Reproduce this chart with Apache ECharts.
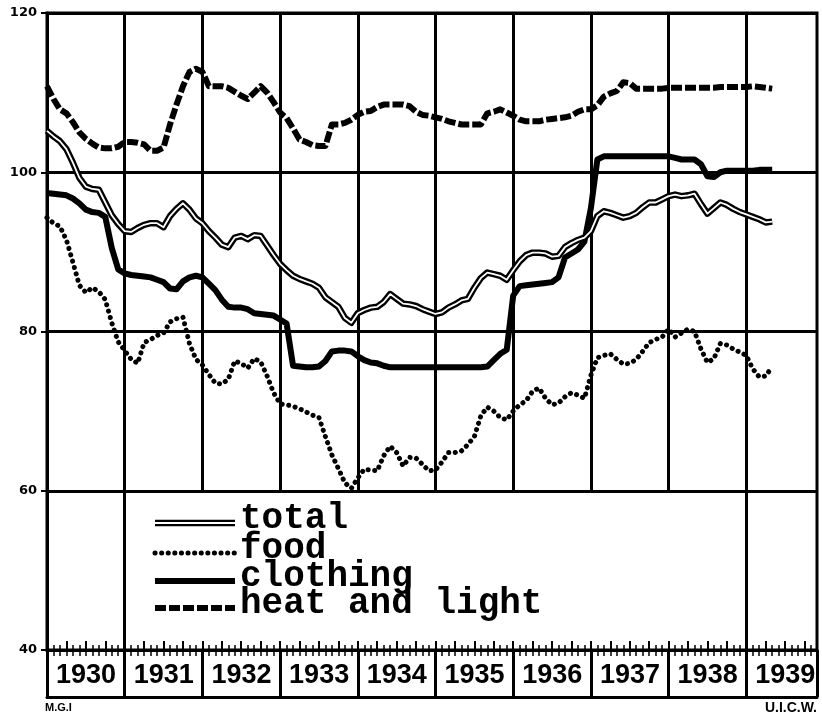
<!DOCTYPE html>
<html>
<head>
<meta charset="utf-8">
<title>Cost of living index 1930-1939</title>
<script src="https://cdn.jsdelivr.net/npm/echarts@6/dist/echarts.min.js"></script>
<style>
  html, body { margin: 0; padding: 0; background: #fff; }
  #chart { width: 822px; height: 717px; }
</style>
</head>
<body>
<div id="chart"></div>
<script>
// monthly index values, first value = January 1930
const startYear = 1930;
const years = [1930, 1931, 1932, 1933, 1934, 1935, 1936, 1937, 1938, 1939];
// year lines that run down to the 40 line (the others stop at 60)
const fullLineYears = [1931, 1939];
const yTicks = [40, 60, 80, 100, 120];

const total = [
  105.2, 104.5, 103.9, 102.9, 101.2, 99.3, 98.2, 97.9, 97.8, 96.2, 94.6, 93.5,
  92.6, 92.5, 93.0, 93.4, 93.6, 93.6, 93.1, 94.5, 95.4, 96.1, 95.3, 94.2,
  93.6, 92.6, 91.8, 90.9, 90.6, 91.8, 92.0, 91.6, 92.1, 92.0, 90.8, 89.6,
  88.5, 87.7, 87.0, 86.6, 86.3, 86.0, 85.5, 84.3, 83.7, 83.1, 81.7, 81.1,
  82.3, 82.7, 83.0, 83.1, 83.7, 84.7, 84.1, 83.5, 83.4, 83.2, 82.8, 82.5,
  82.2, 82.4, 83.0, 83.4, 83.9, 84.1, 85.5, 86.7, 87.4, 87.2, 87.0, 86.5,
  87.7, 88.8, 89.6, 89.9, 89.9, 89.8, 89.4, 89.5, 90.6, 91.1, 91.5, 91.8,
  92.6, 94.5, 95.1, 94.9, 94.6, 94.3, 94.5, 94.9, 95.6, 96.2, 96.2, 96.6,
  97.0, 97.2, 97.0, 97.1, 97.3, 96.0, 94.8, 95.5, 96.2, 95.9, 95.4, 95.0,
  94.7, 94.4, 94.1, 93.7, 93.8
];
const food = [
  94.3, 93.6, 93.2, 91.5, 88.7, 85.8, 84.9, 85.5, 85.0, 84.0, 81.1, 78.7,
  77.6, 76.5, 76.0, 78.6, 79.0, 79.5, 79.8, 81.2, 81.6, 81.8, 78.5, 76.5,
  75.8, 74.6, 73.5, 73.4, 74.0, 76.3, 76.0, 75.4, 76.6, 76.2, 74.4, 72.3,
  70.9, 70.8, 70.6, 70.3, 69.9, 69.5, 69.2, 66.8, 64.5, 62.8, 61.0, 60.3,
  61.6, 62.7, 62.6, 62.5, 64.4, 65.6, 64.8, 63.1, 64.2, 64.1, 63.3, 62.5,
  62.6, 63.6, 64.8, 64.8, 65.0, 65.8, 66.8, 69.4, 70.5, 70.0, 69.2, 68.9,
  70.0, 70.8, 71.3, 72.5, 72.9, 71.6, 70.8, 71.0, 71.8, 72.3, 72.0, 71.6,
  74.5, 76.7, 77.0, 77.2, 76.5, 75.9, 76.0, 76.5, 77.5, 78.6, 79.0, 79.3,
  80.3, 79.3, 79.8, 80.3, 80.0, 77.8, 76.1, 76.6, 78.5, 78.3, 77.8, 77.4,
  77.0, 75.3, 74.3, 74.4, 75.6
];
const clothing = [
  97.4, 97.3, 97.2, 97.1, 96.7, 96.1, 95.3, 95.0, 94.9, 94.4, 90.5, 87.8,
  87.3, 87.1, 87.0, 86.9, 86.8, 86.5, 86.2, 85.4, 85.3, 86.3, 86.8, 87.0,
  86.8, 86.0, 85.2, 84.0, 83.1, 83.0, 83.0, 82.8, 82.3, 82.2, 82.1, 82.0,
  81.5, 81.0, 75.7, 75.6, 75.5, 75.5, 75.6, 76.3, 77.5, 77.6, 77.6, 77.5,
  76.9, 76.4, 76.1, 76.0, 75.7, 75.5, 75.5, 75.5, 75.5, 75.5, 75.5, 75.5,
  75.5, 75.5, 75.5, 75.5, 75.5, 75.5, 75.5, 75.5, 75.6, 76.4, 77.2, 77.7,
  84.5, 85.7, 85.8, 85.9, 86.0, 86.1, 86.2, 86.8, 89.3, 89.8, 90.3, 91.3,
  95.5, 101.6, 102.0, 102.0, 102.0, 102.0, 102.0, 102.0, 102.0, 102.0, 102.0, 102.0,
  102.0, 101.8, 101.6, 101.6, 101.6, 101.0, 99.5, 99.4, 100.0, 100.2, 100.2, 100.2,
  100.2, 100.2, 100.3, 100.3, 100.3
];
const heatLight = [
  110.8, 109.2, 107.9, 107.4, 106.3, 105.0, 104.2, 103.6, 103.1, 103.0, 103.0, 103.2,
  103.8, 103.8, 103.7, 103.5, 102.7, 102.7, 103.1, 106.0, 108.5, 110.8, 112.6, 113.0,
  112.6, 110.8, 110.8, 110.8, 110.6, 110.1, 109.6, 109.2, 110.0, 110.8, 110.0, 108.8,
  107.5, 106.8, 105.5, 104.1, 103.8, 103.4, 103.3, 103.3, 106.0, 106.0, 106.2, 106.6,
  107.2, 107.6, 107.7, 108.2, 108.5, 108.5, 108.5, 108.5, 108.3, 107.6, 107.2, 107.1,
  106.9, 106.7, 106.4, 106.2, 106.0, 106.0, 106.0, 106.0, 107.4, 107.6, 107.9, 107.5,
  107.1, 106.6, 106.4, 106.4, 106.4, 106.6, 106.7, 106.8, 106.9, 107.1, 107.6, 107.9,
  107.9, 108.4, 109.5, 109.9, 110.2, 111.3, 111.2, 110.5, 110.5, 110.5, 110.5, 110.5,
  110.6, 110.6, 110.6, 110.6, 110.6, 110.6, 110.6, 110.6, 110.7, 110.7, 110.7, 110.7,
  110.7, 110.8, 110.7, 110.6, 110.5
];
const legendNames = ['total', 'food', 'clothing', 'heat and light'];

const xMin = startYear;
const xMax = 1939.91;
const yMin = yTicks[0];
const yMax = yTicks[yTicks.length - 1];

function toPoints(vals) {
  return vals.map((v, i) => [startYear + i / 12, v]);
}

// line styles, reused by the legend samples
const styles = {
  total: { color: '#000', width: 6.5 },
  totalInner: { color: '#fff', width: 1.8 },
  food: { color: '#000', width: 5, type: [0.1, 6.5], cap: 'round' },
  clothing: { color: '#000', width: 6 },
  heat: { color: '#000', width: 6, type: [11, 3] }
};

function lineSeries(name, vals, ls, z) {
  return {
    name: name,
    type: 'line',
    data: toPoints(vals),
    showSymbol: false,
    symbol: 'none',
    silent: true,
    z: z,
    lineStyle: Object.assign({ join: 'round' }, ls)
  };
}

// vertical year lines
const yearLines = years.slice(1).map(y => [
  { coord: [y, fullLineYears.includes(y) ? yMin : 60] },
  { coord: [y, yMax] }
]);

const chart = echarts.init(document.getElementById('chart'));

const axisBlack = { color: '#000', width: 3 };
const yearFont = "'Liberation Sans', Arial, sans-serif";
const legendFont = "bold 36px 'Liberation Mono', 'Courier New', monospace";

// legend drawn by hand so the double line can be shown
const legendX1 = 155, legendX2 = 235, legendTextX = 240;
const legendY = [523, 553, 581, 608];
const legendStyleKeys = ['total', 'food', 'clothing', 'heat'];
const legendGraphics = [];
legendStyleKeys.forEach((k, i) => {
  const ls = styles[k];
  legendGraphics.push({
    type: 'line',
    shape: { x1: legendX1, y1: legendY[i], x2: legendX2, y2: legendY[i] },
    style: { stroke: ls.color, lineWidth: ls.width, lineDash: Array.isArray(ls.type) ? ls.type : null, lineCap: ls.cap || 'butt' },
    z: 10
  });
  if (k === 'total') {
    legendGraphics.push({
      type: 'line',
      shape: { x1: legendX1, y1: legendY[i], x2: legendX2, y2: legendY[i] },
      style: { stroke: '#fff', lineWidth: styles.totalInner.width },
      z: 11
    });
  }
  legendGraphics.push({
    type: 'text',
    x: legendTextX,
    y: legendY[i] - 4,
    style: { text: legendNames[i], font: legendFont, fill: '#000', verticalAlign: 'middle', align: 'left' },
    z: 10
  });
});

legendGraphics.push({
  type: 'text', x: 45, y: 708,
  style: { text: 'M.G.I', font: "bold 11px 'Liberation Sans', sans-serif", fill: '#000', verticalAlign: 'middle' }
});
legendGraphics.push({
  type: 'text', x: 817, y: 708,
  style: { text: 'U.I.C.W.', font: "bold 14px 'Liberation Sans', sans-serif", fill: '#000', verticalAlign: 'middle', align: 'right' }
});

const option = {
  backgroundColor: '#fff',
  animation: false,
  grid: {
    left: 47, right: 5, top: 13, bottom: 67,
    containLabel: false,
    outerBoundsMode: 'none',
    show: true, borderColor: '#000', borderWidth: 3
  },
  xAxis: [
    {
      // main axis: year separators below the ruler and year labels
      type: 'value', min: xMin, max: xMax, interval: 1,
      position: 'bottom',
      axisLine: { show: true, lineStyle: axisBlack },
      axisTick: { show: true, length: 47, lineStyle: { color: '#000', width: 3 } },
      minorTick: { show: true, splitNumber: 12, length: 6, lineStyle: { color: '#000', width: 1.5 } },
      splitLine: { show: false },
      axisLabel: {
        show: true,
        showMinLabel: true,
        showMaxLabel: false,
        hideOverlap: false,
        formatter: v => (Number.isInteger(v) ? String(v) : ''),
        // label sits in the middle of its year, not on the year boundary
        align: 'left',
        padding: [0, 0, 0, 9],
        margin: 12,
        color: '#000',
        fontFamily: yearFont,
        fontWeight: 'bold',
        fontSize: 27,
        lineHeight: 27
      }
    },
    {
      // ruler ticks above the 40 line
      type: 'value', min: xMin, max: xMax, interval: 0.25,
      position: 'bottom',
      axisLine: { show: false },
      axisTick: { show: true, inside: true, length: 9, lineStyle: { color: '#000', width: 2 } },
      minorTick: { show: true, splitNumber: 3, length: 5, lineStyle: { color: '#000', width: 1.5 } },
      splitLine: { show: false },
      axisLabel: { show: false }
    },
    {
      // bottom edge of the year band
      type: 'value', min: xMin, max: xMax,
      position: 'bottom', offset: 47,
      axisLine: { show: true, lineStyle: axisBlack },
      axisTick: { show: false },
      splitLine: { show: false },
      axisLabel: { show: false }
    }
  ],
  yAxis: {
    type: 'value', min: yMin, max: yMax, interval: 20,
    axisLine: { show: true, lineStyle: axisBlack },
    axisTick: { show: true, length: 6, lineStyle: { color: '#000', width: 2 } },
    splitLine: { show: true, lineStyle: { color: '#000', width: 3 } },
    axisLabel: {
      margin: 10,
      color: '#000',
      fontFamily: "'DejaVu Sans', sans-serif",
      fontWeight: 'bold',
      fontSize: 13
    }
  },
  graphic: legendGraphics,
  series: [
    {
      name: 'year lines',
      type: 'line',
      data: [],
      silent: true,
      z: 1,
      markLine: {
        silent: true,
        symbol: ['none', 'none'],
        label: { show: false },
        lineStyle: { color: '#000', width: 3, type: 'solid' },
        emphasis: { disabled: true },
        animation: false,
        data: yearLines
      }
    },
    lineSeries('heat and light', heatLight, styles.heat, 3),
    lineSeries('clothing', clothing, styles.clothing, 3),
    lineSeries('food', food, styles.food, 3),
    lineSeries('total', total, styles.total, 4),
    lineSeries('total inner', total, styles.totalInner, 5)
  ]
};

chart.setOption(option);
</script>
</body>
</html>
